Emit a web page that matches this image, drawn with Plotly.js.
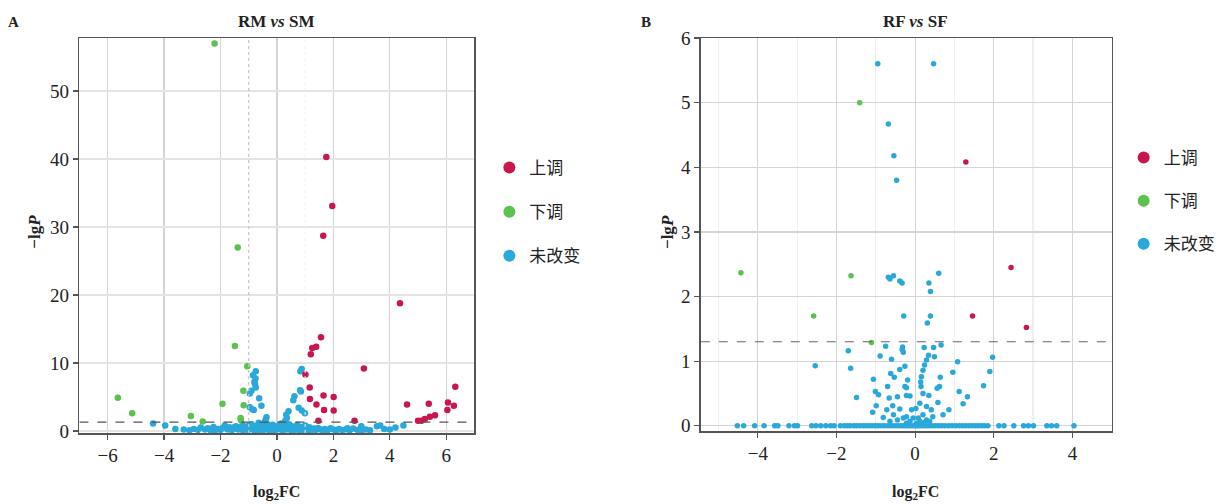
<!DOCTYPE html>
<html><head><meta charset="utf-8">
<script src="https://cdn.plot.ly/plotly-3.0.1.min.js"></script>
<style>html,body{margin:0;padding:0;background:#fff;}#chart{width:1220px;height:504px;}</style>
</head><body><div id="chart"></div>
<script>
// ---------- Panel A: RM vs SM ----------
const legendNames = ["上调", "下调", "未改变"];
const A_up_x = [1.75, 1.96, 1.64, 4.36, 1.56, 1.39, 1.25, 1.20, 3.08, 1.01, 1.16, 1.65, 2.01, 1.17, 1.40, 2.01, 1.47, 2.75, 4.61, 5.38, 5.60, 5.42, 5.24, 5.12, 5.00, 6.06, 6.27, 6.04, 6.32, 1.67];
const A_up_y = [40.3, 33.1, 28.7, 18.8, 13.8, 12.4, 12.2, 11.3, 9.2, 8.3, 6.4, 5.2, 5.0, 4.7, 3.9, 3.0, 1.5, 1.5, 3.9, 4.0, 2.3, 2.1, 1.75, 1.5, 1.5, 4.2, 3.7, 3.1, 6.5, 3.1];
const A_down_x = [-2.21, -1.39, -1.49, -5.64, -5.13, -1.05, -1.19, -1.93, -1.18, -3.05, -2.63, -1.29, -1.28];
const A_down_y = [57.0, 27.0, 12.5, 4.9, 2.6, 9.5, 5.9, 4.0, 3.8, 2.2, 1.4, 1.9, 1.6];
const A_ns_x = [-0.75, -0.85, -0.76, -0.75, -0.90, -0.96, -0.63, -0.55, -0.96, -0.88, -0.82, -0.80, -0.78,
  0.88, 0.83, 0.82, 0.85, 0.62, 0.58, 0.77, 0.88, 0.99, 0.41, 0.33,
  -4.39, -3.96, -0.37, -0.40, 0.35, 0.30, 2.99, 3.54, 3.66, 4.20, 4.48,
  -3.30, -3.10, -2.95, -2.80, -2.70, -2.55, -2.45, -2.35, -2.25, -2.10, -2.00, -1.92, -1.85, -1.75, -1.68, -1.60, -1.52, -1.45, -1.38, -1.30, -1.22, -1.15, -1.08, -1.02, -0.95, -0.90, -0.85, -0.78, -0.70, -0.65, -0.60, -0.55, -0.50, -0.45, -0.42, -0.38, -0.33, -0.30, -0.25, -0.20, -0.15, -0.10, -0.05, 0.00, 0.05, 0.10, 0.15, 0.20, 0.25, 0.28, 0.32, 0.38, 0.43, 0.48, 0.53, 0.60, 0.66, 0.72, 0.78, 0.85, 0.92, 1.00, 1.08, 1.15, 1.22, 1.30, 1.38, 1.46, 1.55, 1.62, 1.70, 1.80, 1.90, 2.00, 2.10, 2.20, 2.32, 2.45, 2.58, 2.70, 2.85, 3.00, 3.15, 3.30,
  -0.50, -0.20, 0.20, 0.50, -0.80, -1.20, 0.80, 1.10, -1.50, -2.20, -0.35, 0.12, -0.12, 0.40, -0.60, 0.70, -1.00, 1.00, 3.8, 4.0, 2.5, -3.6,
  -0.68, -0.58, -0.48, -0.28, -0.18, 0.08, 0.18, 0.36, 0.46, 0.64, -1.35, 1.35, -0.42, 0.26];
const A_ns_y = [8.8, 8.2, 7.7, 6.4, 5.9, 5.5, 4.8, 3.7, 3.5, 3.2, 3.1, 7.2, 6.9,
  9.1, 8.8, 6.0, 5.8, 5.1, 4.5, 3.4, 3.0, 2.6, 2.9, 2.4,
  1.1, 0.8, 2.0, 1.6, 1.9, 1.5, 0.7, 0.7, 0.8, 0.5, 0.8,
  0.2, 0.1, 0.3, 0.15, 0.5, 0.2, 0.4, 0.1, 0.6, 0.3, 0.15, 0.45, 0.8, 0.2, 0.55, 0.1, 0.35, 0.7, 0.2, 0.5, 0.9, 0.3, 0.6, 0.15, 0.45, 1.0, 0.25, 0.7, 0.4, 1.2, 0.2, 0.6, 0.9, 0.3, 1.4, 0.5, 1.0, 0.15, 0.7, 0.35, 0.9, 0.1, 0.5, 0.2, 0.75, 0.3, 1.1, 0.45, 0.8, 1.3, 0.2, 0.6, 1.0, 0.35, 0.7, 0.15, 0.5, 0.9, 0.25, 0.6, 0.1, 0.4, 0.2, 0.55, 0.1, 0.35, 0.15, 0.45, 0.2, 0.05, 0.3, 0.1, 0.4, 0.2, 0.05, 0.3, 0.1, 0.25, 0.1, 0.35, 0.15, 0.05, 0.2, 0.1,
  0.05, 0.05, 0.05, 0.08, 0.05, 0.05, 0.05, 0.05, 0.6, 0.05, 0.35, 0.6, 0.6, 0.45, 0.5, 0.3, 0.8, 0.8, 0.3, 0.2, 0.4, 0.3,
  0.15, 0.35, 0.6, 0.5, 0.25, 0.4, 0.15, 0.3, 0.6, 0.2, 0.3, 0.25, 0.8, 0.55];

// ---------- Panel B: RF vs SF ----------
const B_up_x = [1.29, 2.44, 1.46, 2.83];
const B_up_y = [4.08, 2.45, 1.70, 1.52];
const B_down_x = [-1.41, -4.43, -1.63, -2.58, -1.11];
const B_down_y = [5.00, 2.37, 2.32, 1.70, 1.29];
const B_ns_x = [-0.95, 0.47, -0.68, -0.54, -0.47,
  -0.68, -0.55, -0.64, -0.39, -0.33, 0.60, 0.35, 0.39, -0.29, 0.39, 0.31,
  -2.54, -1.70, -1.64, -1.49, -1.08, -1.06, -0.89, -0.75, -0.60, -0.62, -0.53, -0.39, -0.26, -0.33, -0.30, -0.32, -0.19, -0.26, -0.22, -0.70, -1.01, -0.93, -0.99, -0.66, -0.45, -0.22, -0.13, -0.39, -0.72, -0.57, -0.55, -0.81,
  0.23, 0.47, 0.66, 0.34, 0.29, 0.24, 0.20, 0.16, 0.14, 0.15, 0.20, 0.49, 0.64, 0.62, 0.56, 0.35, 0.58, 0.71, 0.86, 1.08, 0.96, 1.12, 1.22, 1.33, 1.74, 1.90, 1.97,
  0.41, 0.29, 0.12, 0.02, -0.09, 0.45, 0.20, -0.22, -0.30, -0.05, 0.08, 0.29, -0.45, -0.13, 0.12, -0.22, 0.03, 0.24, -0.64, 0.37,
  -4.52, -4.36, -4.08, -3.84, -3.57, -3.49, -3.21, -3.07, -2.99, -2.63, -2.52, -2.40, -2.27, -2.15, -2.06,
  -1.90, -1.80, -1.72, -1.65, -1.55, -1.48, -1.40, -1.32, -1.25, -1.18, -1.10, -1.02, -0.95, -0.88, -0.80, -0.72, -0.65, -0.58, -0.50, -0.43, -0.36, -0.30, -0.24, -0.18, -0.12, -0.06, 0.00, 0.05, 0.11, 0.17, 0.23, 0.30, 0.37, 0.44, 0.52, 0.60, 0.68, 0.76, 0.85, 0.94, 1.03, 1.12, 1.20, 1.28, 1.36, 1.44, 1.52, 1.60, 1.68, 1.76, 1.85,
  2.13, 2.26, 2.51, 2.76, 2.88, 3.01, 3.35, 3.47, 3.60, 4.04];
const B_ns_y = [5.60, 5.60, 4.67, 4.18, 3.80,
  2.30, 2.32, 2.27, 2.24, 2.21, 2.36, 2.21, 2.08, 1.70, 1.70, 1.59,
  0.93, 1.16, 0.89, 0.44, 0.21, 0.72, 1.08, 1.23, 1.03, 0.81, 0.75, 0.87, 0.92, 1.18, 1.14, 1.22, 0.71, 0.61, 0.59, 0.61, 0.53, 0.48, 0.31, 0.43, 0.45, 0.47, 0.46, 0.26, 0.25, 0.31, 0.17, 0.13,
  1.21, 1.21, 1.25, 1.09, 1.02, 0.94, 0.86, 0.76, 0.68, 0.61, 0.50, 1.07, 0.75, 0.61, 0.58, 0.47, 0.36, 0.17, 0.25, 0.99, 0.83, 0.53, 0.34, 0.45, 0.62, 0.84, 1.06,
  0.25, 0.30, 0.35, 0.27, 0.25, 0.14, 0.17, 0.14, 0.12, 0.12, 0.12, 0.09, 0.09, 0.07, 0.07, 0.04, 0.04, 0.05, 0.07, 0.07,
  0, 0, 0, 0, 0, 0, 0, 0, 0, 0, 0, 0, 0, 0, 0,
  0, 0, 0, 0, 0, 0, 0, 0, 0, 0, 0, 0, 0, 0, 0, 0, 0, 0, 0, 0, 0, 0, 0, 0, 0, 0, 0, 0, 0, 0, 0, 0, 0, 0, 0, 0, 0, 0, 0, 0, 0, 0, 0, 0, 0, 0, 0, 0, 0, 0, 0,
  0, 0, 0, 0, 0, 0, 0, 0, 0, 0];

const pThreshold = 1.3;   // -lg(0.05)
const fcThreshold = -1;

const RED = '#c8174f', GREEN = '#5cc14f', BLUE = '#2aa8da';
const SERIF = 'Liberation Serif, DejaVu Serif, serif';
const CJK = 'Noto Sans CJK SC, sans-serif';

function tr(x, y, name, color, xa, ya, leg, size, rank) {
  return {type: 'scatter', mode: 'markers', x: x, y: y, name: name,
    xaxis: xa, yaxis: ya, legend: leg, legendrank: rank,
    marker: {color: color, size: size, line: {width: 0}}, cliponaxis: true};
}

const data = [
  tr(A_ns_x, A_ns_y, legendNames[2], BLUE, 'x', 'y', 'legend', 6.5, 3),
  tr(A_down_x, A_down_y, legendNames[1], GREEN, 'x', 'y', 'legend', 6.5, 2),
  tr(A_up_x, A_up_y, legendNames[0], RED, 'x', 'y', 'legend', 6.5, 1),
  tr(B_ns_x, B_ns_y, legendNames[2], BLUE, 'x2', 'y2', 'legend2', 5.5, 3),
  tr(B_down_x, B_down_y, legendNames[1], GREEN, 'x2', 'y2', 'legend2', 5.5, 2),
  tr(B_up_x, B_up_y, legendNames[0], RED, 'x2', 'y2', 'legend2', 5.5, 1)
];

const W = 1220, H = 504;
const px = v => v / W, py = v => 1 - v / H;

const axCommon = {showline: true, linecolor: '#555', linewidth: 1.5, mirror: true,
  ticks: 'outside', ticklen: 5, tickcolor: '#555', tickwidth: 1.2,
  tickfont: {family: SERIF, size: 19, color: '#222'}, zeroline: false,
  showgrid: true, gridcolor: '#d4d4d4', gridwidth: 1.2};

const legCommon = {font: {family: CJK, size: 17, color: '#222'}, itemsizing: 'constant',
  traceorder: 'normal', bgcolor: 'rgba(0,0,0,0)', tracegroupgap: 0,
  xanchor: 'left', yanchor: 'top', itemwidth: 30};

const layout = {
  width: W, height: H, margin: {l: 0, r: 0, t: 0, b: 0},
  font: {family: SERIF, color: '#222'},
  paper_bgcolor: '#fff', plot_bgcolor: '#fff', showlegend: true,
  xaxis: Object.assign({}, axCommon, {domain: [px(80), px(478)], range: [-7, 7], tickvals: [-6, -4, -2, 0, 2, 4, 6], anchor: 'y'}),
  yaxis: Object.assign({}, axCommon, {domain: [py(433), py(38)], range: [-0.3, 57.8], tickvals: [0, 10, 20, 30, 40, 50], anchor: 'x', gridcolor: '#e4e4e4'}),
  xaxis2: Object.assign({}, axCommon, {domain: [px(706), px(1120)], range: [-5.45, 5], tickvals: [-4, -2, 0, 2, 4], anchor: 'y2',
    minor: {tickvals: [-5, -3, -1, 1, 3], showgrid: true, gridcolor: '#efefef', ticks: ''}}),
  yaxis2: Object.assign({}, axCommon, {domain: [py(431), py(38)], range: [-0.08, 6], tickvals: [0, 1, 2, 3, 4, 5, 6], anchor: 'x2'}),
  legend: Object.assign({}, legCommon, {x: px(493), y: py(150), tracegroupgap: 0, valign: 'middle'}),
  legend2: Object.assign({}, legCommon, {x: px(1132), y: py(140)}),
  shapes: [
    {type: 'line', xref: 'x', yref: 'y', x0: fcThreshold, x1: fcThreshold, y0: -0.3, y1: 57.8, line: {color: '#c4c4c4', width: 1.2, dash: 'dot'}},
    {type: 'line', xref: 'x', yref: 'y', x0: -fcThreshold, x1: -fcThreshold, y0: -0.3, y1: 57.8, line: {color: '#f0f0f0', width: 1, dash: 'dot'}},
    {type: 'line', xref: 'x', yref: 'y', x0: -7, x1: 7, y0: pThreshold, y1: pThreshold, line: {color: '#555', width: 1.2, dash: 'dash'}},
    {type: 'line', xref: 'x2', yref: 'y2', x0: -5.45, x1: 5, y0: pThreshold, y1: pThreshold, line: {color: '#666', width: 1.1, dash: 'dash'}}
  ],
  annotations: [
    {text: '<b>A</b>', xref: 'paper', yref: 'paper', x: px(14), y: py(22), xanchor: 'center', yanchor: 'middle', showarrow: false, font: {family: SERIF, size: 15, color: '#222'}},
    {text: '<b>B</b>', xref: 'paper', yref: 'paper', x: px(651), y: py(22), xanchor: 'center', yanchor: 'middle', showarrow: false, font: {family: SERIF, size: 15, color: '#222'}},
    {text: '<b>RM <i>vs</i> SM</b>', xref: 'paper', yref: 'paper', x: px(279), y: py(22), xanchor: 'center', yanchor: 'middle', showarrow: false, font: {family: SERIF, size: 17, color: '#222'}},
    {text: '<b>RF <i>vs</i> SF</b>', xref: 'paper', yref: 'paper', x: px(922), y: py(22), xanchor: 'center', yanchor: 'middle', showarrow: false, font: {family: SERIF, size: 17, color: '#222'}},
    {text: '<b>−lg<i>P</i></b>', xref: 'paper', yref: 'paper', x: px(35), y: py(232), xanchor: 'center', yanchor: 'middle', textangle: -90, showarrow: false, font: {family: SERIF, size: 17, color: '#222'}},
    {text: '<b>−lg<i>P</i></b>', xref: 'paper', yref: 'paper', x: px(673), y: py(232), xanchor: 'center', yanchor: 'middle', textangle: -90, showarrow: false, font: {family: SERIF, size: 17, color: '#222'}},
    {text: '<b>log<sub>2</sub>FC</b>', xref: 'paper', yref: 'paper', x: px(279), y: py(492), xanchor: 'center', yanchor: 'middle', showarrow: false, font: {family: SERIF, size: 16, color: '#222'}},
    {text: '<b>log<sub>2</sub>FC</b>', xref: 'paper', yref: 'paper', x: px(922), y: py(492), xanchor: 'center', yanchor: 'middle', showarrow: false, font: {family: SERIF, size: 16, color: '#222'}}
  ]
};

// Legend item spacing: each trace gets its own group so tracegroupgap spaces the rows
data.forEach(function (t, i) { t.legendgroup = 'g' + i; });
layout.legend.traceorder = 'grouped';
layout.legend2.traceorder = 'grouped';
layout.legend.tracegroupgap = 19;
layout.legend2.tracegroupgap = 18;

Plotly.newPlot('chart', data, layout, {staticPlot: true, displayModeBar: false});
</script>
</body></html>
